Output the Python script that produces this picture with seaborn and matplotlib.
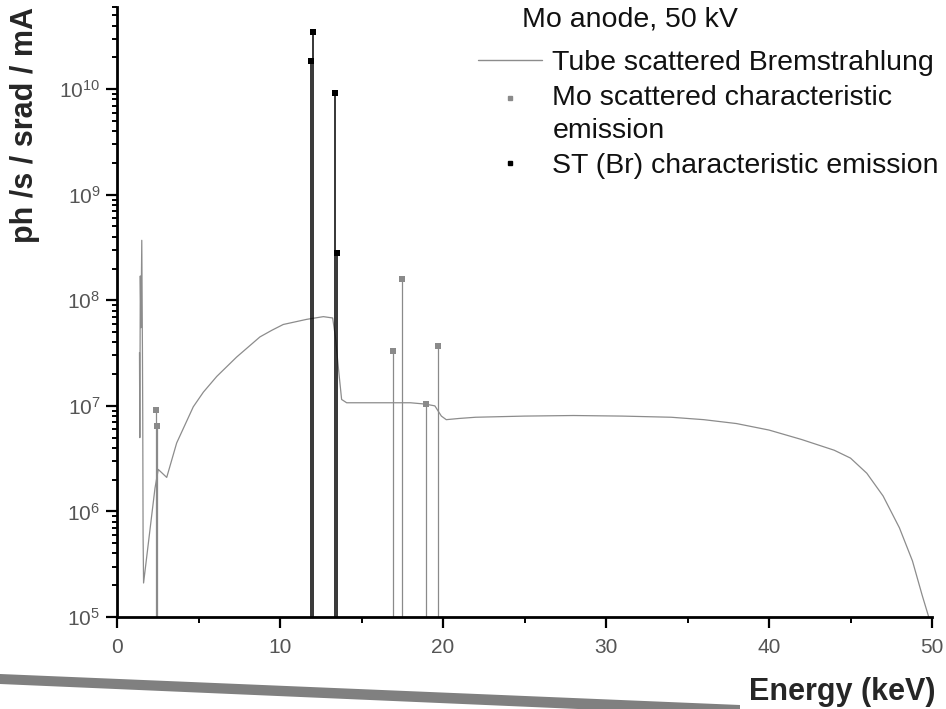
import numpy as np
import pandas as pd
import matplotlib
matplotlib.use("Agg")
import matplotlib.pyplot as plt
import seaborn as sns
from matplotlib.patches import Polygon
from matplotlib.lines import Line2D
from matplotlib.legend_handler import HandlerLine2D
from matplotlib.ticker import LogLocator, MultipleLocator, NullFormatter

# ---------------- data ----------------
brems_energy = [1.38, 1.40, 1.43, 1.47, 1.52, 1.56, 1.58, 1.60, 1.63, 2.33, 2.53, 3.05,
                3.66, 4.68, 5.30, 6.12, 7.34, 8.77, 9.50, 10.2, 11.64, 12.66, 13.23,
                13.40, 13.58, 13.78, 14.09, 16.0, 18.0, 18.9, 19.5, 19.9, 20.2, 20.6,
                21.0, 22.0, 25.0, 28.0, 31.0, 34.0, 36.0, 38.0, 40.0, 42.0, 44.0,
                45.0, 46.0, 47.0, 48.0, 48.8, 49.4, 49.8]
brems_flux = [3.2e7, 5.0e6, 1.7e8, 5.5e7, 3.7e8, 3.5e7, 7.5e6, 6.0e5, 2.1e5, 1.66e6, 2.5e6, 2.1e6,
              4.45e6, 9.8e6, 1.35e7, 1.9e7, 2.9e7, 4.5e7, 5.2e7, 5.9e7, 6.6e7, 7.0e7, 6.8e7,
              4.5e7, 2.3e7, 1.15e7, 1.07e7, 1.07e7, 1.07e7, 1.04e7, 1.0e7, 8.0e6, 7.4e6, 7.5e6,
              7.6e6, 7.8e6, 8.0e6, 8.1e6, 8.0e6, 7.8e6, 7.4e6, 6.8e6, 5.9e6, 4.8e6, 3.8e6,
              3.2e6, 2.3e6, 1.4e6, 7.0e5, 3.4e5, 1.6e5, 1.0e5]

mo_energy = [2.37, 2.47, 16.91, 17.50, 18.96, 19.69]
mo_flux = [9.2e6, 6.4e6, 3.3e7, 1.6e8, 1.04e7, 3.7e7]

br_energy = [11.88, 12.00, 13.36, 13.48]
br_flux = [1.86e10, 3.5e10, 9.1e9, 2.8e8]

x_ticks = [0, 10, 20, 30, 40, 50]
y_ticks = [1e5, 1e6, 1e7, 1e8, 1e9, 1e10]

legend_title = "Mo anode, 50 kV"
series_labels = ["Tube scattered Bremstrahlung",
                 "Mo scattered characteristic\nemission",
                 "ST (Br) characteristic emission"]
x_label = "Energy (keV)"
y_label = "ph /s / srad / mA"

# ---------------- styling ----------------
sns.set_style("ticks")
plt.rcParams["font.family"] = ["Liberation Sans", "DejaVu Sans"]

W, H = 946, 709
fig = plt.figure(figsize=(W / 100, H / 100), dpi=100)
ax = fig.add_axes([117 / W, 92 / H, (932 - 117) / W, (617 - 7) / H])

brems_color = "#8c8c8c"
mo_color = "#8a8a8a"
br_color = "#000000"

brems_df = pd.DataFrame({"energy": brems_energy, "flux": brems_flux})
mo_df = pd.DataFrame({"energy": mo_energy, "flux": mo_flux})
br_df = pd.DataFrame({"energy": br_energy, "flux": br_flux})

ymin, ymax = 1e5, 6e10

# stems (drop lines) for characteristic lines
ax.vlines(mo_df["energy"], ymin, mo_df["flux"], color=mo_color, lw=0.9, zorder=2)
ax.vlines(br_df["energy"], ymin, br_df["flux"], color=br_color, lw=1.1, zorder=3)

sns.lineplot(data=brems_df, x="energy", y="flux", ax=ax, color=brems_color,
             lw=0.9, sort=False, estimator=None, zorder=2)
sns.scatterplot(data=mo_df, x="energy", y="flux", ax=ax, color=mo_color,
                marker="s", s=14, linewidth=0, zorder=4)
sns.scatterplot(data=br_df, x="energy", y="flux", ax=ax, color=br_color,
                marker="s", s=14, linewidth=0, zorder=5)

ax.set_yscale("log")
ax.set_xlim(0, 50)
ax.set_ylim(ymin, ymax)
ax.set_xticks(x_ticks)
ax.set_yticks(y_ticks)
ax.xaxis.set_minor_locator(MultipleLocator(5))
ax.yaxis.set_minor_locator(LogLocator(base=10, subs=np.arange(2, 10)))
ax.yaxis.set_minor_formatter(NullFormatter())
ax.set_xlabel("")
ax.set_ylabel("")

for s in ["top", "right"]:
    ax.spines[s].set_visible(False)
for s in ["left", "bottom"]:
    ax.spines[s].set_linewidth(2.0)
    ax.spines[s].set_color("black")

ax.tick_params(axis="both", which="both", bottom=True, left=True, top=False, right=False)
ax.tick_params(axis="both", which="major", direction="out", length=8, width=1.6,
               color="black", labelcolor="#555555", labelsize=15)
ax.tick_params(axis="both", which="minor", direction="out", length=3.5, width=1.4,
               color="black")
ax.tick_params(axis="x", which="minor", length=4.5)
ax.tick_params(axis="x", which="major", pad=7)
ax.tick_params(axis="y", which="major", pad=4)


class RaisedHandler(HandlerLine2D):
    """Marker aligned with the first line of a two-line label."""
    def __init__(self, shift, **kw):
        super().__init__(**kw)
        self.shift = shift

    def create_artists(self, legend, orig_handle, xdescent, ydescent, width,
                       height, fontsize, trans):
        arts = super().create_artists(legend, orig_handle, xdescent, ydescent,
                                      width, height, fontsize, trans)
        for a in arts:
            a.set_ydata(np.asarray(a.get_ydata()) + self.shift)
        return arts


# legend
h_brems = Line2D([], [], color=brems_color, lw=1.0)
h_mo = Line2D([], [], color=mo_color, marker="s", ls="none", markersize=3.5)
h_br = Line2D([], [], color=br_color, marker="s", ls="none", markersize=3.5)
leg = ax.legend([h_brems, h_mo, h_br], series_labels, loc="upper left",
                bbox_to_anchor=(478 / W, 1 - 50 / H), bbox_transform=fig.transFigure,
                frameon=False, fontsize=20.5, borderpad=0, borderaxespad=0,
                handlelength=2.25, handletextpad=0.36, labelspacing=0.3,
                handler_map={h_mo: RaisedHandler(shift=11.9)})
for t in leg.get_texts():
    t.set_color("#111111")
    t.set_linespacing(1.38)

fig.text(522 / W, 1 - 20 / H, legend_title, ha="left", va="center", fontsize=20.5,
         color="#111111")

# axis labels
fig.text(935 / W, 1 - 700 / H, x_label, ha="right", va="baseline", fontsize=22,
         fontweight="bold")
fig.text(25 / W, 1 - 125 / H, y_label, ha="center", va="center", rotation=90,
         fontsize=22, fontweight="bold")

# decorative slanted bar at bottom
bar = Polygon([(0 / W, 1 - 674 / H), (740 / W, 1 - 705 / H), (740 / W, 1 - 716 / H),
               (0 / W, 1 - 684 / H)], closed=True, transform=fig.transFigure,
              facecolor="#808080", edgecolor="none")
fig.add_artist(bar)

fig.savefig("out.png", dpi=100)
